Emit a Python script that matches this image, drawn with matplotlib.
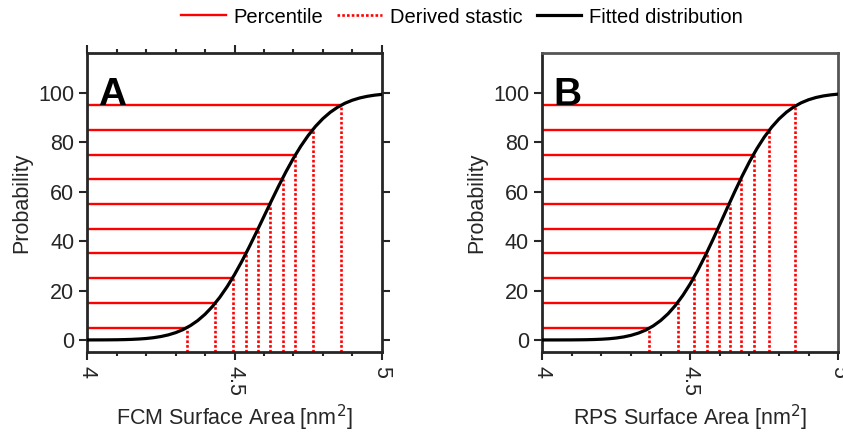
import matplotlib
matplotlib.use("Agg")
import matplotlib.pyplot as plt
from matplotlib.lines import Line2D
from matplotlib.ticker import MultipleLocator

plt.rcParams['font.family'] = ['Liberation Sans', 'DejaVu Sans']

# percentile levels (%) and the surface area where each crosses the fit
levels = [5, 15, 25, 35, 45, 55, 65, 75, 85, 95]
fcm_pct = [4.339, 4.435, 4.494, 4.539, 4.581, 4.621, 4.663, 4.707, 4.766, 4.862]
rps_pct = [4.362, 4.457, 4.513, 4.556, 4.596, 4.634, 4.672, 4.715, 4.767, 4.854]

# fitted distribution
curve_x = [4.000, 4.025, 4.050, 4.075, 4.100, 4.125, 4.150, 4.175, 4.200, 4.225,
           4.250, 4.275, 4.300, 4.325, 4.350, 4.375, 4.400, 4.425, 4.450, 4.475,
           4.500, 4.525, 4.550, 4.575, 4.600, 4.625, 4.650, 4.675, 4.700, 4.725,
           4.750, 4.775, 4.800, 4.825, 4.850, 4.875, 4.900, 4.925, 4.950, 4.975,
           5.000]
fcm_fit = [0.01, 0.02, 0.03, 0.05, 0.08, 0.14, 0.23, 0.38, 0.59, 0.92,
           1.39, 2.05, 2.96, 4.18, 5.80, 7.85, 10.42, 13.55, 17.28, 21.59,
           26.47, 31.85, 37.67, 43.76, 50.00, 56.24, 62.33, 68.15, 73.53, 78.41,
           82.72, 86.45, 89.58, 92.15, 94.20, 95.82, 97.04, 97.95, 98.61, 99.08,
           99.41]
rps_fit = [0.00, 0.01, 0.01, 0.02, 0.03, 0.06, 0.10, 0.18, 0.30, 0.49,
           0.79, 1.23, 1.88, 2.79, 4.03, 5.71, 7.88, 10.62, 14.01, 18.06,
           22.76, 28.10, 33.97, 40.25, 46.81, 53.45, 59.99, 66.28, 72.14, 77.44,
           82.12, 86.14, 89.50, 92.22, 94.37, 96.02, 97.26, 98.16, 98.79, 99.22,
           99.52]

panels = [
    ("A", "FCM Surface Area [nm$^2$]", fcm_pct, fcm_fit, True),
    ("B", "RPS Surface Area [nm$^2$]", rps_pct, rps_fit, False),
]

axcol = '#262626'
dots = (0, (1, 0.8))
fig = plt.figure(figsize=(8.43, 4.37), dpi=100)
lefts = [0.1036, 0.6433]
widths = [0.3492, 0.3511]

for i, (letter, xlabel, pct, fit, boxticks) in enumerate(panels):
    ax = fig.add_axes([lefts[i], 0.1938, widths[i], 0.684])
    ax.set_xlim(4, 5)
    ax.set_ylim(-5, 116)
    ymin = ax.get_ylim()[0]

    ax.hlines(levels, 4, pct, color='red', lw=1.7, zorder=2)
    ax.vlines(pct, ymin, levels, color='red', lw=1.9, linestyles=dots, zorder=2)
    ax.plot(curve_x, fit, color='black', lw=2.3, zorder=3)

    ax.set_xticks([4, 4.5, 5])
    ax.set_xticklabels(['4', '4.5', '5'], rotation=-90, va='top', ha='center')
    ax.xaxis.set_minor_locator(MultipleLocator(0.1))
    ax.set_yticks([0, 20, 40, 60, 80, 100])
    ax.tick_params(axis='both', which='major', direction='out', length=6, width=1.5,
                   color=axcol, labelsize=15.5, labelcolor=axcol,
                   top=boxticks, right=boxticks)
    ax.tick_params(axis='x', which='minor', direction='out', length=3, width=1.5,
                   color=axcol, top=boxticks)
    for s in ax.spines.values():
        s.set_linewidth(2)
        s.set_color(axcol)
    if not boxticks:
        ax.spines['top'].set_color('#555555')
        ax.spines['right'].set_color('#555555')

    ax.set_ylabel('Probability', fontsize=15.5, color=axcol, labelpad=4)
    ax.set_xlabel(xlabel, fontsize=15.5, color=axcol, labelpad=5)
    ax.text(0.036, 0.827, letter, transform=ax.transAxes, fontsize=28,
            fontweight='bold', va='baseline', ha='left', color='black')

handles = [
    Line2D([], [], color='red', lw=1.7),
    Line2D([], [], color='red', lw=1.9, linestyle=dots),
    Line2D([], [], color='black', lw=2.3),
]
fig.legend(handles, ['Percentile', 'Derived stastic', 'Fitted distribution'],
           loc='center', bbox_to_anchor=(0.548, 0.961), ncol=3, frameon=False,
           fontsize=14.5, handlelength=2.2, handletextpad=0.4, columnspacing=0.7)

fig.savefig('out.png', dpi=100)
